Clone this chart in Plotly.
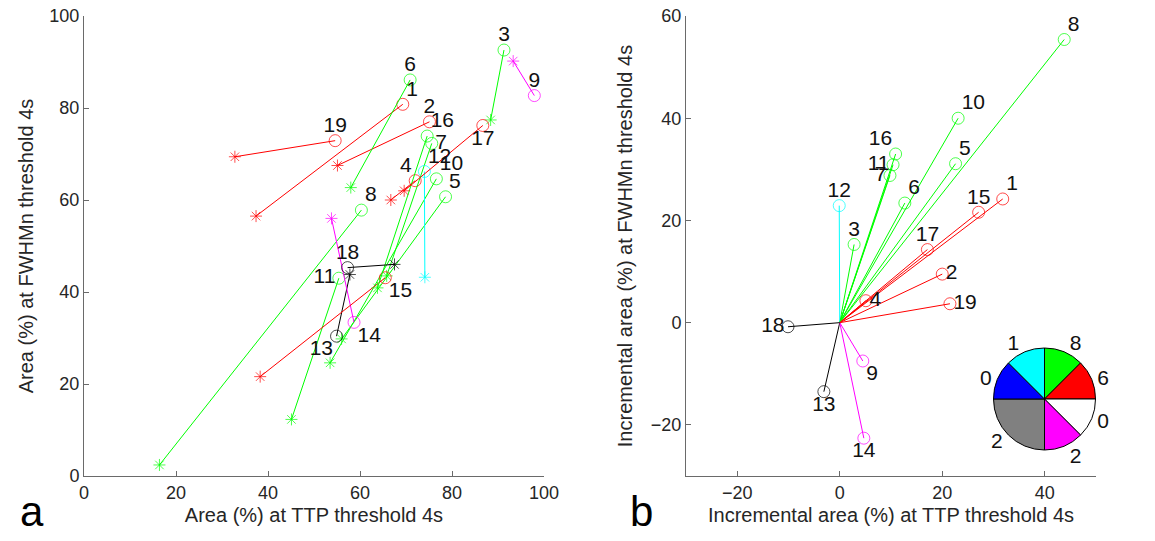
import plotly.graph_objects as go

# --- data ---
case_ids = list(range(1, 20))
colour_name = ["red", "red", "green", "red", "green", "green", "green", "green", "magenta", "green",
               "green", "cyan", "black", "magenta", "red", "green", "red", "black", "red"]

# panel a: start (asterisk) and end (circle) of each case
ttp_start = [37.4, 55.1, 88.4, 66.7, 56.0, 58.0, 65.8, 16.4, 93.3, 53.5,
             45.1, 74.1, 57.8, 53.8, 38.3, 63.8, 69.6, 67.5, 32.8]
fwhm_start = [56.5, 67.5, 77.4, 60.0, 29.8, 62.7, 43.5, 2.4, 90.2, 24.6,
              12.3, 43.2, 43.8, 56.0, 21.6, 40.9, 62.0, 46.0, 69.4]
ttp_end = [69.3, 75.1, 91.3, 72.0, 78.6, 70.9, 75.6, 60.3, 97.9, 76.6,
           55.4, 74.0, 54.9, 58.7, 65.5, 74.6, 86.7, 57.3, 54.6]
fwhm_end = [80.8, 77.0, 92.6, 64.2, 60.7, 86.1, 72.3, 57.8, 82.7, 64.6,
            43.0, 66.2, 30.4, 33.4, 43.1, 73.9, 76.2, 45.3, 72.9]

# panel b: incremental area
inc_ttp = [31.8, 20.0, 2.8, 5.1, 22.6, 12.7, 9.8, 43.8, 4.5, 23.1,
           10.4, -0.1, -3.1, 4.7, 27.1, 10.9, 17.1, -10.1, 21.5]
inc_fwhm = [24.2, 9.5, 15.3, 4.3, 31.1, 23.4, 28.8, 55.4, -7.5, 40.0,
            30.9, 22.9, -13.5, -22.6, 21.6, 33.0, 14.3, -0.8, 3.7]

# direction-sector legend (pie)
sector_counts = ["8", "6", "0", "2", "2", "0", "1"]
sector_span = [1, 1, 1, 1, 2, 1, 1]
sector_colour = ["#00FF00", "#FF0000", "#FFFFFF", "#FF00FF", "#808080", "#0000FF", "#00FFFF"]

COLOURS = {"red": "#FF0000", "green": "#00FF00", "cyan": "#00FFFF",
           "magenta": "#FF00FF", "black": "#000000"}

pos_a = ["top right", "top center", "top center", "top left", "top right", "top center",
         "middle right", "top right", "top center", "top right", "middle left", "top right",
         "bottom left", "bottom right", "bottom right", "top right", "bottom center",
         "top center", "top center"]
pos_b = ["top right", "middle right", "top center", "middle right", "top right", "top right",
         "middle left", "top right", "bottom right", "top right", "middle left", "top center",
         "bottom center", "bottom center", "top center", "top left", "top center",
         "middle left", "middle right"]

W, H = 1155, 541
FONT = "Liberation Sans, Arial, sans-serif"
TXT = "#262626"
AX = "#6a6a6a"
LBL = dict(size=21, color="#111111", family=FONT)

fig = go.Figure()

for i, cid in enumerate(case_ids):
    col = COLOURS[colour_name[i]]
    fig.add_trace(go.Scatter(
        x=[ttp_start[i], ttp_end[i]], y=[fwhm_start[i], fwhm_end[i]],
        mode="lines+markers",
        line=dict(color=col, width=1),
        marker=dict(symbol=["asterisk-open", "circle-open"], size=[10, 12],
                    color=col, line=dict(width=1, color=col)),
        xaxis="x", yaxis="y", showlegend=False, hoverinfo="skip",
    ))
    fig.add_trace(go.Scatter(
        x=[0, inc_ttp[i]], y=[0, inc_fwhm[i]],
        mode="lines+markers",
        line=dict(color=col, width=1),
        marker=dict(symbol=["circle", "circle-open"], size=[0, 12],
                    color=col, line=dict(width=1, color=col)),
        xaxis="x2", yaxis="y2", showlegend=False, hoverinfo="skip",
    ))

# case numbers, set close to the circles
labels = [str(c) for c in case_ids]
fig.add_trace(go.Scatter(
    x=ttp_end, y=fwhm_end, mode="markers+text", text=labels, textposition=pos_a,
    marker=dict(size=4, color="rgba(0,0,0,0)"), textfont=LBL, cliponaxis=False,
    xaxis="x", yaxis="y", showlegend=False, hoverinfo="skip",
))
fig.add_trace(go.Scatter(
    x=inc_ttp, y=inc_fwhm, mode="markers+text", text=labels, textposition=pos_b,
    marker=dict(size=4, color="rgba(0,0,0,0)"), textfont=LBL, cliponaxis=False,
    xaxis="x2", yaxis="y2", showlegend=False, hoverinfo="skip",
))

# pie legend
cx, cy, r = 1044.5, 399, 51
fig.add_trace(go.Pie(
    values=sector_span, text=sector_counts, textinfo="text", textposition="outside",
    sort=False, direction="clockwise", rotation=0, automargin=False,
    marker=dict(colors=sector_colour, line=dict(color="#000000", width=1)),
    textfont=dict(size=21, color="#111111", family=FONT),
    domain=dict(x=[(cx - r) / W, (cx + r) / W], y=[1 - (cy + r) / H, 1 - (cy - r) / H]),
    showlegend=False, hoverinfo="skip",
))

axis_common = dict(showgrid=False, zeroline=False, showline=True, linecolor=AX, linewidth=1,
                   ticks="inside", ticklen=5, tickcolor=AX, mirror=False, automargin=False,
                   tickfont=dict(size=18, color=TXT, family=FONT),
                   title_font=dict(size=20, color=TXT, family=FONT))

top, bottom = 1 - 16 / H, 1 - 476 / H

fig.update_layout(
    width=W, height=H,
    margin=dict(l=0, r=0, t=0, b=0, autoexpand=False),
    paper_bgcolor="white", plot_bgcolor="white",
    font=dict(family=FONT, color=TXT),
    xaxis=dict(axis_common, domain=[84 / W, 544 / W], range=[0, 100],
               tickvals=[0, 20, 40, 60, 80, 100],
               title=dict(text="Area (%) at TTP threshold 4s", standoff=6)),
    yaxis=dict(axis_common, domain=[bottom, top], range=[0, 100],
               tickvals=[0, 20, 40, 60, 80, 100],
               title=dict(text="Area (%) at FWHMn threshold 4s", standoff=10)),
    xaxis2=dict(axis_common, domain=[686 / W, 1096 / W], range=[-30, 50], anchor="y2",
                tickvals=[-20, 0, 20, 40],
                title=dict(text="Incremental area (%) at TTP threshold 4s", standoff=6)),
    yaxis2=dict(axis_common, domain=[bottom, top], range=[-30, 60], anchor="x2",
                tickvals=[-20, 0, 20, 40, 60],
                title=dict(text="Incremental area (%) at FWHMn threshold 4s", standoff=12)),
    annotations=[
        dict(text="a", x=18 / W, y=1 - 537 / H, xref="paper", yref="paper",
             xanchor="left", yanchor="bottom", showarrow=False,
             font=dict(size=42, color="#000000", family=FONT)),
        dict(text="b", x=628 / W, y=1 - 537 / H, xref="paper", yref="paper",
             xanchor="left", yanchor="bottom", showarrow=False,
             font=dict(size=42, color="#000000", family=FONT)),
    ],
)

# the page body has a default 8px margin; drop it so the figure fills the window
fig.write_html("out.html", config={"displayModeBar": False},
               post_script="document.body.style.margin='0';")
